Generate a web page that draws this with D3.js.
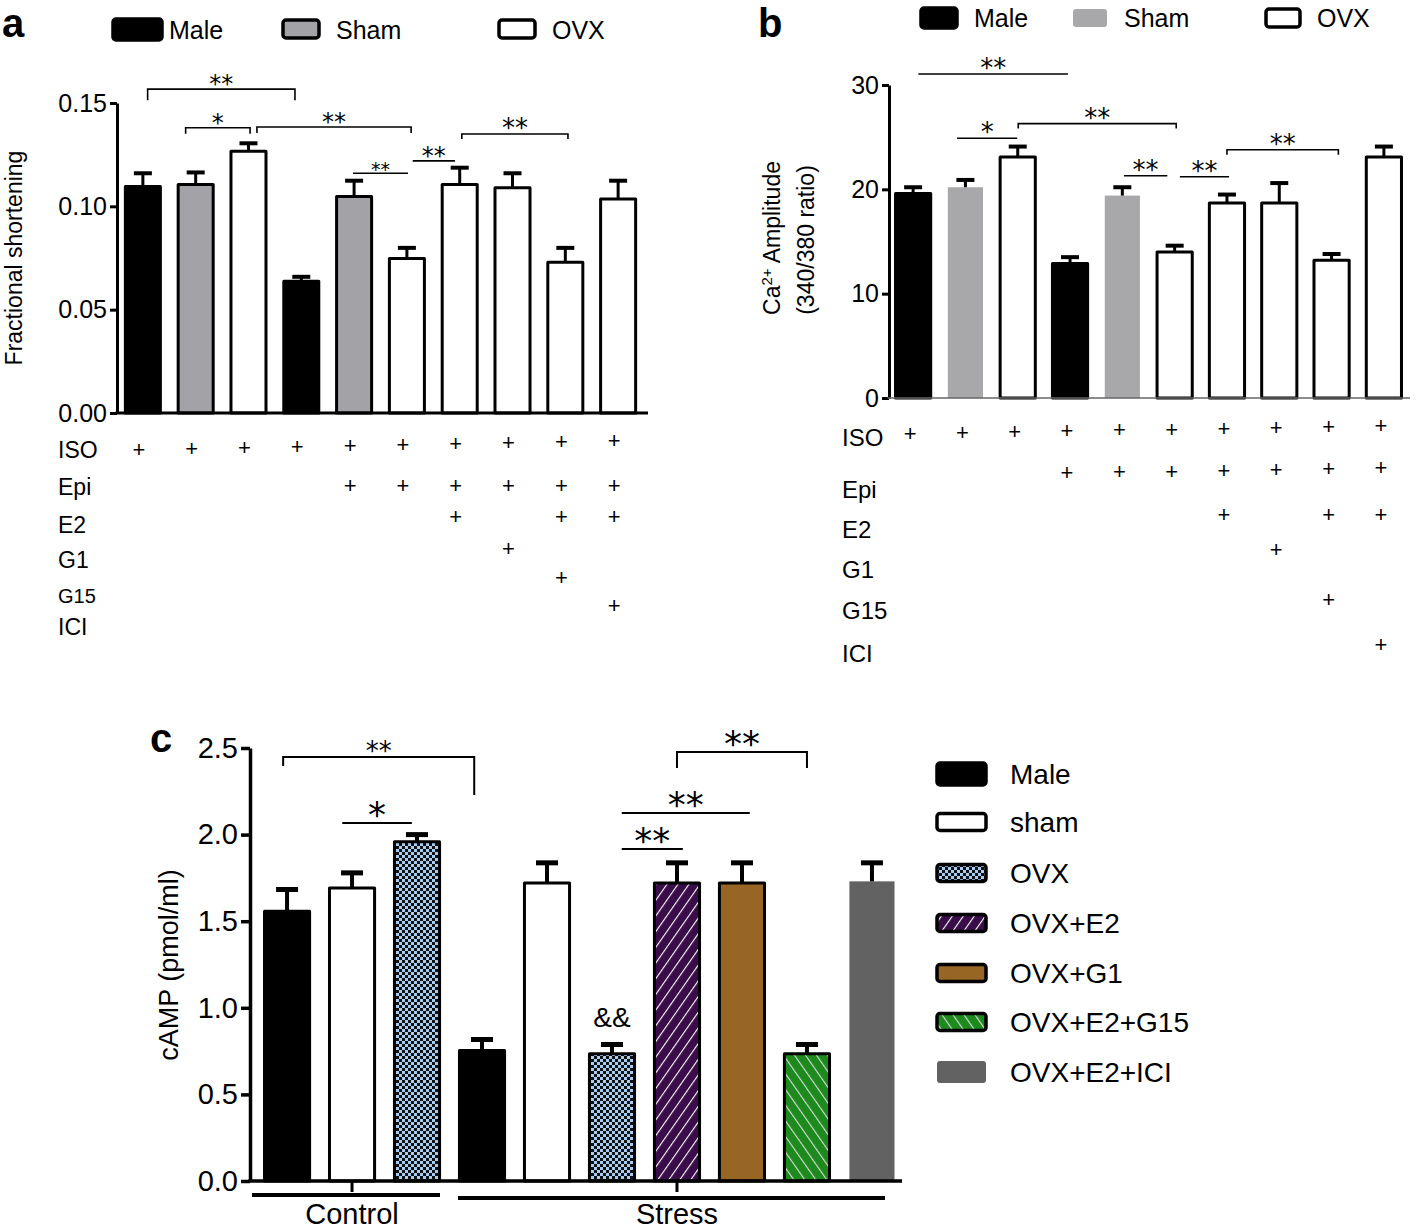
<!DOCTYPE html>
<html><head><meta charset="utf-8">
<script src="https://cdn.jsdelivr.net/npm/d3@7"></script>
<style>
body{margin:0;background:#fff}
svg{display:block}
text{font-family:"Liberation Sans",Arial,sans-serif;fill:#000}
.narrow{font-family:"Liberation Sans Narrow","Liberation Sans",Arial,sans-serif}
.star{font-family:"DejaVu Sans",sans-serif}
</style>
</head><body>
<svg id="chart" width="1418" height="1231"></svg>
<script>
// ---------------- DATA ----------------
const groupsAB = ["Male","Sham","OVX","Male","Sham","OVX","OVX","OVX","OVX","OVX"];
const fsMean = [0.1096,0.1106,0.1267,0.0638,0.1048,0.0748,0.1106,0.1090,0.0730,0.1035];
const fsErr  = [0.0064,0.0058,0.0038,0.0021,0.0076,0.0051,0.0081,0.0070,0.0069,0.0089];
const caMean = [19.6,20.2,23.1,12.9,19.4,14.0,18.7,18.7,13.2,23.1];
const caErr  = [0.6,0.7,1.0,0.6,0.8,0.6,0.8,1.9,0.6,1.0];
const ticksA = [0,0.05,0.10,0.15];
const ticksB = [0,10,20,30];
const treatments = ["ISO","Epi","E2","G1","G15","ICI"];
const treatA = [
  [1,1,1,1,1,1,1,1,1,1],
  [0,0,0,0,1,1,1,1,1,1],
  [0,0,0,0,0,0,1,0,1,1],
  [0,0,0,0,0,0,0,1,0,0],
  [0,0,0,0,0,0,0,0,1,0],
  [0,0,0,0,0,0,0,0,0,1]];
const treatB = [
  [1,1,1,1,1,1,1,1,1,1],
  [0,0,0,1,1,1,1,1,1,1],
  [0,0,0,0,0,0,1,0,1,1],
  [0,0,0,0,0,0,0,1,0,0],
  [0,0,0,0,0,0,0,0,1,0],
  [0,0,0,0,0,0,0,0,0,1]];
const legendAB = ["Male","Sham","OVX"];
// significance annotations: [fromIndex, toIndex, level(value), label]
const sigA = [[0.09,2.88,0.1567,"**"],[0.81,2.03,0.138,"*"],[2.16,5.08,0.1384,"**"],[3.98,5.02,0.116,"**"],[5.11,5.91,0.122,"**"],[6.04,8.05,0.135,"**"]];
const sigB = [[0.1,2.96,31.06,"**"],[0.84,1.99,24.9,"*"],[2.01,5.03,26.3,"**"],[4.03,4.86,21.3,"**"],[5.1,6.04,21.2,"**"],[6.0,8.13,23.8,"**"]];

const campGroups = ["Male","sham","OVX","Male","sham","OVX","OVX+E2","OVX+G1","OVX+E2+G15","OVX+E2+ICI"];
const campMean = [1.558,1.692,1.958,0.754,1.721,0.735,1.720,1.720,0.735,1.730];
const campErr  = [0.125,0.087,0.042,0.063,0.116,0.053,0.117,0.117,0.053,0.107];
const ticksC = [0,0.5,1.0,1.5,2.0,2.5];
const legendC = ["Male","sham","OVX","OVX+E2","OVX+G1","OVX+E2+G15","OVX+E2+ICI"];
const conditions = ["Control","Stress"];
const conditionBars = [[0,2],[3,9]];
const sigC = [[-0.06,2.88,2.448,"**"],[0.85,1.92,2.067,"*"],[5.15,7.12,2.125,"**"],[5.15,6.09,1.917,"**"],[6.0,8.0,2.477,"**"]];
const ampLabel = {bar:5, text:"&&"};

// ---------------- DRAW ----------------
const svg = d3.select("#chart");
const defs = svg.append("defs");
const pc = defs.append("pattern").attr("id","checker").attr("patternUnits","userSpaceOnUse").attr("width",6).attr("height",6);
pc.append("rect").attr("width",6).attr("height",6).attr("fill","#a8cdf2");
pc.append("rect").attr("width",3).attr("height",3).attr("fill","#111");
pc.append("rect").attr("x",3).attr("y",3).attr("width",3).attr("height",3).attr("fill","#111");
const pp = defs.append("pattern").attr("id","purple").attr("patternUnits","userSpaceOnUse").attr("width",9).attr("height",9).attr("patternTransform","rotate(35)");
pp.append("rect").attr("width",9).attr("height",9).attr("fill","#3a0c4a");
pp.append("line").attr("x1",0).attr("x2",0).attr("y1",0).attr("y2",9).attr("stroke","#fff").attr("stroke-width",2.2);
const pg = defs.append("pattern").attr("id","green").attr("patternUnits","userSpaceOnUse").attr("width",9).attr("height",9).attr("patternTransform","rotate(-35)");
pg.append("rect").attr("width",9).attr("height",9).attr("fill","#1c8a1c");
pg.append("line").attr("x1",0).attr("x2",0).attr("y1",0).attr("y2",9).attr("stroke","#dcdcdc").attr("stroke-width",2.2);

const styleA = {Male:{fill:"#000",stroke:"#000"},Sham:{fill:"#a3a3a7",stroke:"#000"},OVX:{fill:"#fff",stroke:"#000"}};
const styleB = {Male:{fill:"#000",stroke:"#000"},Sham:{fill:"#a8a8aa",stroke:"none"},OVX:{fill:"#fff",stroke:"#000"}};
const styleC = {"Male":{fill:"#000",stroke:"#000"},"sham":{fill:"#fff",stroke:"#000"},"OVX":{fill:"url(#checker)",stroke:"#000"},
  "OVX+E2":{fill:"url(#purple)",stroke:"#000"},"OVX+G1":{fill:"#976524",stroke:"#000"},"OVX+E2+G15":{fill:"url(#green)",stroke:"#000"},"OVX+E2+ICI":{fill:"#626262",stroke:"none"}};

function barPanel(o){
  const g = svg.append("g");
  const x = d3.scaleBand().domain(d3.range(o.mean.length)).range(o.xr).paddingInner(o.pi).paddingOuter(o.po);
  const y = d3.scaleLinear().domain(o.yd).range(o.yr);
  const bw = x.bandwidth(), step = x.step();
  const xc = i => x(i) + bw/2;
  const xAt = f => xc(0) + f*step;
  g.selectAll("rect.bar").data(o.mean).join("rect").attr("class","bar")
    .attr("x",(d,i)=>x(i)+o.sw/2).attr("width",bw-o.sw)
    .attr("y",d=>y(d)).attr("height",d=>y(0)-y(d))
    .attr("fill",(d,i)=>o.style[o.groups[i]].fill)
    .attr("stroke",(d,i)=>o.style[o.groups[i]].stroke)
    .attr("stroke-width",o.sw).attr("stroke-linejoin","round");
  const eb = g.selectAll("g.err").data(o.mean).join("g").attr("class","err");
  eb.append("line").attr("x1",(d,i)=>xc(i)).attr("x2",(d,i)=>xc(i))
    .attr("y1",d=>y(d)).attr("y2",(d,i)=>y(d+o.err[i])).attr("stroke","#000").attr("stroke-width",o.ew);
  eb.append("line").attr("x1",(d,i)=>xc(i)-o.cap/2).attr("x2",(d,i)=>xc(i)+o.cap/2)
    .attr("y1",(d,i)=>y(d+o.err[i])).attr("y2",(d,i)=>y(d+o.err[i])).attr("stroke","#000").attr("stroke-width",o.ew+1);
  const ax = g.append("g").attr("transform",`translate(${o.xr[0]},0)`)
    .call(d3.axisLeft(y).tickValues(o.ticks).tickSizeInner(o.tick).tickSizeOuter(0).tickPadding(3).tickFormat(o.fmt));
  ax.select(".domain").attr("stroke","#000").attr("stroke-width",o.aw);
  ax.selectAll(".tick line").attr("stroke","#000").attr("stroke-width",o.aw);
  ax.selectAll(".tick text").attr("class","narrow").attr("font-size",o.tfs).attr("fill","#000");
  g.append("line").attr("x1",o.xr[0]-o.aw/2).attr("x2",o.xEnd).attr("y1",y(0)).attr("y2",y(0))
    .attr("stroke",o.xaColor).attr("stroke-width",o.xaw);
  (o.sig||[]).forEach(s=>{
    const x1=xAt(s[0]), x2=xAt(s[1]), yy=y(s[2]);
    const dropL = s[4]||0, dropR = s[5]||0;
    const fs = s[6]||o.sigfs;
    g.append("path").attr("d",`M${x1},${yy+dropL}V${yy}H${x2}V${yy+dropR}`)
      .attr("fill","none").attr("stroke","#000").attr("stroke-width",o.sigw);
    g.append("text").attr("class","star").attr("x",(x1+x2)/2).attr("y",yy+fs*0.12).attr("text-anchor","middle")
      .attr("font-size",fs).text(s[3]);
  });
  return {x,y,xc,xAt,bw};
}

// ---- Panel a ----
const sigAfull = sigA.map((s,i)=>{ const drops=[[11,11],[6,6],[6,6],[0,0],[0,0],[5,5]][i]; const fs=[24,24,24,19,24,26][i]; return [...s,drops[0],drops[1],fs];});
const pa = barPanel({mean:fsMean,err:fsErr,groups:groupsAB,style:styleA,xr:[117,644],pi:0.28,po:0.13,
  yd:[0,0.15],yr:[413,103],ticks:ticksA,fmt:d3.format(".2f"),sw:3,ew:3,cap:18,tick:7,aw:3,tfs:25,
  xEnd:648,xaColor:"#000",xaw:3,sig:sigAfull,sigw:1.6,sigfs:24});
svg.append("text").attr("x",2).attr("y",37).attr("font-size",40).attr("font-weight","bold").text("a");
svg.append("text").attr("transform","translate(22,258) rotate(-90)").attr("text-anchor","middle").attr("font-size",23).text("Fractional shortening");
const legA = [{x:113,w:49,h:21,y:19},{x:283,w:36,h:18,y:20},{x:499,w:36,h:18,y:20}];
legendAB.forEach((k,i)=>{
  const L=legA[i];
  svg.append("rect").attr("x",L.x).attr("y",L.y).attr("width",L.w).attr("height",L.h).attr("rx",3)
    .attr("fill",styleA[k].fill).attr("stroke","#000").attr("stroke-width",3.5);
  svg.append("text").attr("class","narrow").attr("x",L.x+L.w+(i==0?7:17)).attr("y",39).attr("font-size",25).text(k);
});
const rowLabA=[450,487,525,560,596,627], rowPlusA=[449,485,516,548,577,605];
treatments.forEach((t,r)=>{
  svg.append("text").attr("x",58).attr("y",rowLabA[r]).attr("dominant-baseline","central").attr("font-size",r==4?20:23).attr("class","narrow").text(t);
  treatA[r].forEach((v,i)=>{ if(v) svg.append("text").attr("x",pa.xc(i)-4).attr("y",rowPlusA[r]-(r==0?i*0.9:0)).attr("text-anchor","middle").attr("dominant-baseline","central").attr("font-size",22).text("+"); });
});

// ---- Panel b ----
const sigBfull = sigB.map((s,i)=>{ const drops=[[0,0],[0,0],[5,5],[0,0],[0,0],[5,5]][i]; return [...s,drops[0],drops[1],26];});
const pb = barPanel({mean:caMean,err:caErr,groups:groupsAB,style:styleB,xr:[889,1408],pi:0.27,po:0.096,
  yd:[0,30],yr:[398,85],ticks:ticksB,fmt:d3.format("d"),sw:3,ew:3,cap:18,tick:7,aw:3,tfs:25,
  xEnd:1410,xaColor:"#666",xaw:1.5,sig:sigBfull,sigw:1.6,sigfs:26});
svg.append("text").attr("x",758).attr("y",37).attr("font-size",40).attr("font-weight","bold").text("b");
const yb = svg.append("text").attr("transform","translate(780,238) rotate(-90)").attr("text-anchor","middle").attr("font-size",23);
yb.append("tspan").text("Ca");
yb.append("tspan").attr("baseline-shift","super").attr("font-size",15).text("2+");
yb.append("tspan").text(" Amplitude");
svg.append("text").attr("transform","translate(814,240) rotate(-90)").attr("text-anchor","middle").attr("font-size",23).text("(340/380 ratio)");
const legB = [{x:921,w:36,h:20,y:8},{x:1073,w:34,h:18,y:9},{x:1266,w:34,h:18,y:9}];
legendAB.forEach((k,i)=>{
  const L=legB[i];
  svg.append("rect").attr("x",L.x).attr("y",L.y).attr("width",L.w).attr("height",L.h).attr("rx",3)
    .attr("fill",styleB[k].fill).attr("stroke",styleB[k].stroke).attr("stroke-width",3.5);
  svg.append("text").attr("class","narrow").attr("x",L.x+L.w+17).attr("y",27).attr("font-size",25).text(k);
});
const rowLabB=[437,489,529,569,610,653], rowPlusB=[433,475,514,549,599,644];
treatments.forEach((t,r)=>{
  svg.append("text").attr("x",842).attr("y",rowLabB[r]).attr("dominant-baseline","central").attr("font-size",24).attr("class","narrow").text(t);
  treatB[r].forEach((v,i)=>{ if(v) svg.append("text").attr("x",pb.xc(i)-3).attr("y",rowPlusB[r]-(r<2?i*0.8:0)).attr("text-anchor","middle").attr("dominant-baseline","central").attr("font-size",22).text("+"); });
});

// ---- Panel c ----
const sigCfull = sigC.map((s,i)=>{ const drops=[[9,38],[0,0],[0,0],[0,0],[16,16]][i]; const fs=[26,36,36,36,36][i]; return [...s,drops[0],drops[1],fs];});
const pcn = barPanel({mean:campMean,err:campErr,groups:campGroups,style:styleC,xr:[250,909],pi:0.26,po:0.2,
  yd:[0,2.5],yr:[1181,748],ticks:ticksC,fmt:d3.format(".1f"),sw:3,ew:4,cap:22,tick:9,aw:3.5,tfs:29,
  xEnd:902,xaColor:"#000",xaw:3.5,sig:sigCfull,sigw:2,sigfs:36});
svg.append("text").attr("x",150).attr("y",752).attr("font-size",40).attr("font-weight","bold").text("c");
svg.append("text").attr("transform","translate(178,965) rotate(-90)").attr("text-anchor","middle").attr("font-size",27).text("cAMP (pmol/ml)");
svg.append("text").attr("x",pcn.xc(ampLabel.bar)).attr("y",pcn.y(campMean[ampLabel.bar]+campErr[ampLabel.bar])-18).attr("text-anchor","middle").attr("font-size",28).attr("class","narrow").text(ampLabel.text);
// condition groups
const condLineY=[1195,1198];
const condSpan=[[252,440],[458,885]];
conditions.forEach((c,k)=>{
  const [i0,i1]=conditionBars[k];
  const mid = (pcn.xc(i0)+pcn.xc(i1))/2;
  svg.append("line").attr("x1",mid).attr("x2",mid).attr("y1",1181).attr("y2",1192).attr("stroke","#000").attr("stroke-width",3);
  svg.append("line").attr("x1",condSpan[k][0]).attr("x2",condSpan[k][1]).attr("y1",condLineY[k]).attr("y2",condLineY[k]).attr("stroke","#000").attr("stroke-width",4);
  svg.append("text").attr("class","narrow").attr("x",mid).attr("y",1224).attr("text-anchor","middle").attr("font-size",29).text(c);
});
// legend c
const legCy=[774,822,873,923,973,1022,1072];
legendC.forEach((k,i)=>{
  const h = (i==0||i==6)?22:17, w = 49;
  const st = styleC[k];
  svg.append("rect").attr("x",937).attr("y",legCy[i]-h/2).attr("width",w).attr("height",h).attr("rx",3)
    .attr("fill",st.fill).attr("stroke",st.stroke==="none"?"none":"#000").attr("stroke-width",3.5);
  svg.append("text").attr("x",1010).attr("y",legCy[i]).attr("dominant-baseline","central").attr("font-size",28).text(k);
});
</script></body></html>
